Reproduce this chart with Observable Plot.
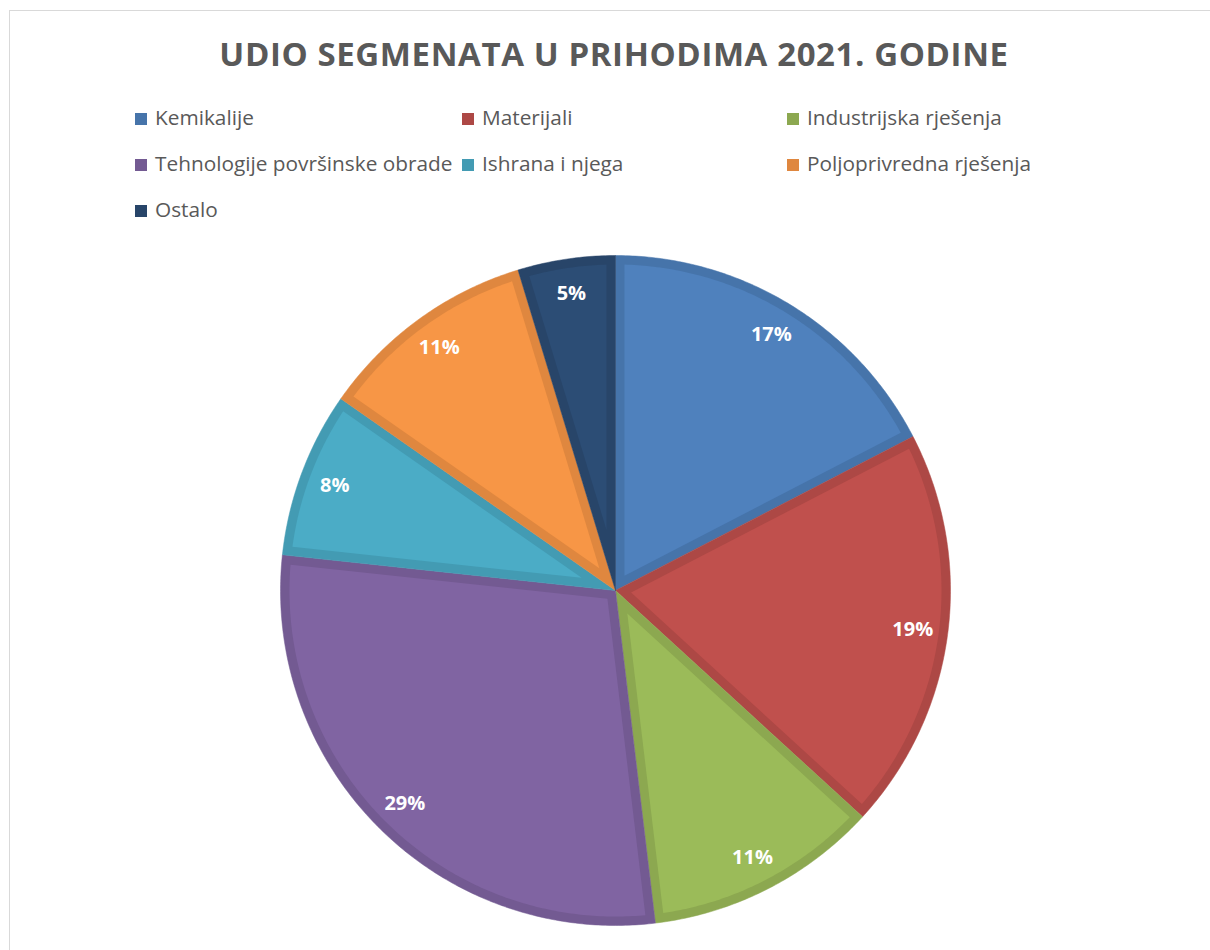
<!DOCTYPE html>
<html>
<head>
<meta charset="utf-8">
<script src="https://cdn.jsdelivr.net/npm/d3@7"></script>
<script src="https://cdn.jsdelivr.net/npm/@observablehq/plot@0.6"></script>
<style>
  html, body { margin: 0; padding: 0; background: #fff; overflow: hidden; }
  #wrap { position: relative; width: 1210px; height: 950px; overflow: hidden; font-family: "Open Sans", sans-serif; }
  #frame { position: absolute; left: 9px; top: 10px; width: 1230px; height: 1000px; border: 1px solid #d9d9d9; box-sizing: border-box; }
  #title { position: absolute; left: 0; width: 1228px; top: 30px; text-align: center; font-weight: 700; font-size: 33px; color: #595959; letter-spacing: 0.6px; line-height: 48px; }
  .leg { position: absolute; font-size: 20.8px; color: #595959; line-height: 24px; white-space: nowrap; }
  .sw { display: inline-block; width: 12px; height: 12px; margin-right: 8px; vertical-align: 0px; }
  #chart { position: absolute; left: 265px; top: 240px; }
</style>
</head>
<body>
<div id="wrap">
  <div id="frame"></div>
  <div id="title">UDIO SEGMENATA U PRIHODIMA 2021. GODINE</div>
  <div id="legend"></div>
  <div id="chart"></div>
</div>
<script>
// Data
const segments = ["Kemikalije", "Materijali", "Industrijska rješenja", "Tehnologije površinske obrade", "Ishrana i njega", "Poljoprivredna rješenja", "Ostalo"];
const shares = [17.4, 19.4, 11.3, 28.6, 8.0, 10.6, 4.7];
const fillColors = ["#4f81bd", "#c0504d", "#9bbb59", "#8064a2", "#4bacc6", "#f79646", "#2c4d75"];
const edgeColors = ["#4674aa", "#ad4845", "#8ca850", "#735a92", "#439bb3", "#df873f", "#284569"];
const title = "UDIO SEGMENATA U PRIHODIMA 2021. GODINE";

// Legend (3 columns)
const legCols = [135, 462, 787];
const legRows = [105, 151, 197];
const legend = document.getElementById("legend");
segments.forEach((s, i) => {
  const d = document.createElement("div");
  d.className = "leg";
  d.style.left = legCols[i % 3] + "px";
  d.style.top = legRows[Math.floor(i / 3)] + "px";
  d.innerHTML = `<span class="sw" style="background:${edgeColors[i]}"></span>${s}`;
  legend.appendChild(d);
});

// Pie geometry (unit radius), angles clockwise from north
const arcs = d3.pie().sort(null).value(d => d)(shares);
const inset = 9 / 335;
function outerPoly(a0, a1) {
  const pts = [{x: 0, y: 0}];
  const n = Math.max(8, Math.ceil((a1 - a0) / 0.01));
  for (let k = 0; k <= n; k++) {
    const a = a0 + (a1 - a0) * k / n;
    pts.push({x: Math.sin(a), y: Math.cos(a)});
  }
  pts.push({x: 0, y: 0});
  return pts;
}
function innerPoly(a0, a1) {
  const th = a1 - a0;
  const mid = (a0 + a1) / 2;
  const pd = inset / Math.sin(th / 2);
  const P = {x: pd * Math.sin(mid), y: pd * Math.cos(mid)};
  const R = 1 - inset;
  const off = Math.asin(inset / R);
  const b0 = a0 + off, b1 = a1 - off;
  const pts = [P];
  const n = Math.max(8, Math.ceil((b1 - b0) / 0.01));
  for (let k = 0; k <= n; k++) {
    const a = b0 + (b1 - b0) * k / n;
    pts.push({x: R * Math.sin(a), y: R * Math.cos(a)});
  }
  pts.push(P);
  return pts;
}

const marks = [];
arcs.forEach((a, i) => {
  marks.push(Plot.line(outerPoly(a.startAngle, a.endAngle), {x: "x", y: "y", fill: edgeColors[i], stroke: edgeColors[i], strokeWidth: 0.5, curve: "linear"}));
});
arcs.forEach((a, i) => {
  marks.push(Plot.line(innerPoly(a.startAngle, a.endAngle), {x: "x", y: "y", fill: fillColors[i], stroke: "none", curve: "linear"}));
});
const labelData = arcs.map((a, i) => {
  const m = (a.startAngle + a.endAngle) / 2;
  return {x: 0.895 * Math.sin(m), y: 0.895 * Math.cos(m), t: Math.round(shares[i]) + "%"};
});
marks.push(Plot.text(labelData, {x: "x", y: "y", text: "t", fill: "white", fontWeight: "bold", fontSize: 20, fontFamily: "Open Sans"}));

const Rd = 350 / 335;
const plot = Plot.plot({
  width: 700, height: 700, margin: 0,
  x: {domain: [-Rd, Rd], axis: null},
  y: {domain: [-Rd, Rd], axis: null},
  marks
});
document.getElementById("chart").appendChild(plot);
</script>
</body>
</html>
